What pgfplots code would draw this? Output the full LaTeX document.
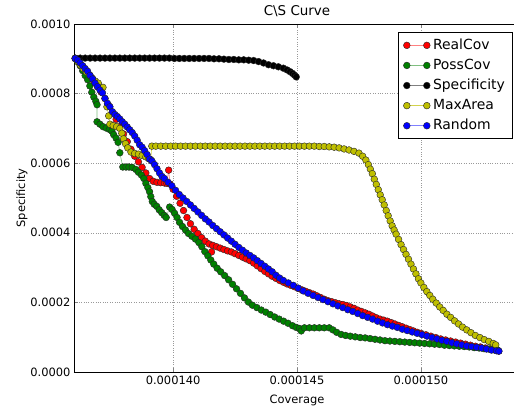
\documentclass[border=0pt]{standalone}
\usepackage{fontspec}
\setmainfont{DejaVu Sans}
\usepackage{pgfplots}
\pgfplotsset{compat=1.18}

\definecolor{mplgreen}{rgb}{0,0.5,0}
\definecolor{mplyellow}{rgb}{0.75,0.75,0}

% x in units of 1e-6, y in units of 1e-4
\pgfplotsset{
  cs/.style={line width=0.6pt, mark=*, mark size=3.4pt,
    mark options={solid, fill=#1, draw=black!85, line width=0.4pt}},
}

\begin{document}
\begin{tikzpicture}
\path[use as bounding box] (-74bp,-36bp) rectangle (440bp,372bp);
\begin{axis}[
    at={(0,0)}, anchor=south west,
    scale only axis,
    width=446bp, height=348bp,
    xmin=136, xmax=154, ymin=0, ymax=10,
    xtick={140,145,150},
    xticklabels={0.000140,0.000145,0.000150},
    ytick={0,2,4,6,8,10},
    yticklabels={0.0000,0.0002,0.0004,0.0006,0.0008,0.0010},
    tick align=inside,
    major tick length=4bp,
    grid=major,
    grid style={dotted, gray!80, line width=0.5pt},
    axis line style={line width=0.6pt},
    tick label style={font=\fontsize{11.5}{13}\selectfont},
    label style={font=\fontsize{11.5}{13}\selectfont},
    title style={font=\fontsize{13.5}{15}\selectfont, yshift=-2bp},
    title={C\textbackslash S Curve},
    xlabel={Coverage},
    ylabel={Specificity},
    xlabel style={yshift=-4bp},
    ylabel style={yshift=-4bp},
    legend style={at={(1,1)}, anchor=north east, xshift=-7bp, yshift=-8bp,
      font=\fontsize{14}{16}\selectfont, draw=black, line width=0.6pt,
      inner xsep=5bp, inner ysep=3bp, row sep=0pt,
      nodes={text height=11bp, text depth=3.5bp, inner sep=2.8bp}},
    legend cell align=left,
    legend image code/.code={\draw[#1] plot coordinates {(0bp,0bp) (20bp,0bp)};},
]

% RealCov
\addplot[color=red!50, cs=red] table {
136.05 9.01
136.20 8.90
136.35 8.78
136.50 8.66
136.65 8.52
136.80 8.36
136.95 8.20
137.10 8.04
137.25 7.86
137.40 7.66
137.55 7.46
137.70 7.26
137.85 7.05
138.00 6.84
138.15 6.62
138.30 6.40
138.45 6.20
138.60 6.04
138.75 5.88
138.90 5.72
139.05 5.56
139.20 5.48
139.35 5.45
139.50 5.44
139.65 5.43
139.75 5.42
139.82 5.80
139.88 5.40
140.00 5.25
140.14 5.05
140.28 4.85
140.42 4.64
140.56 4.44
140.70 4.26
140.85 4.10
141.00 3.98
141.15 3.86
141.30 3.76
141.45 3.68
141.55 3.45
141.60 3.64
141.75 3.60
141.90 3.56
142.05 3.52
142.20 3.48
142.35 3.45
142.50 3.40
142.65 3.35
142.80 3.30
142.95 3.25
143.10 3.20
143.25 3.13
143.40 3.05
143.55 2.97
143.70 2.89
143.85 2.82
144.00 2.75
144.15 2.69
144.30 2.63
144.45 2.58
144.60 2.53
144.75 2.49
144.90 2.45
145.05 2.40
145.20 2.36
145.35 2.32
145.50 2.28
145.65 2.24
145.80 2.19
145.95 2.14
146.10 2.09
146.25 2.05
146.40 2.02
146.55 1.99
146.70 1.96
146.85 1.94
147.00 1.91
147.15 1.87
147.30 1.83
147.45 1.78
147.60 1.74
147.75 1.70
147.90 1.66
148.05 1.61
148.20 1.56
148.35 1.52
148.50 1.49
148.65 1.46
148.80 1.42
148.95 1.38
149.10 1.34
149.25 1.30
149.40 1.26
149.55 1.22
149.70 1.18
149.85 1.14
150.00 1.11
150.20 1.07
150.40 1.03
150.60 0.99
150.80 0.95
151.00 0.92
151.20 0.89
151.40 0.86
151.60 0.83
151.80 0.80
152.00 0.77
152.20 0.74
152.40 0.72
152.60 0.69
152.80 0.66
153.00 0.63
153.14 0.60
};
\addlegendentry{RealCov}

% PossCov
\addplot[color=mplgreen!50, cs=mplgreen] table {
136.05 9.01
136.15 8.92
136.25 8.80
136.35 8.66
136.45 8.52
136.55 8.40
136.64 8.22
136.72 8.04
136.80 7.90
136.88 7.78
136.93 7.68
136.93 7.19
137.05 7.12
137.17 7.05
137.30 7.01
137.43 6.97
137.53 6.92
137.60 6.82
137.70 6.72
137.78 6.60
137.85 6.30
137.97 5.89
138.10 5.89
138.22 5.89
138.35 5.88
138.50 5.82
138.60 5.74
138.72 5.66
138.82 5.56
138.90 5.42
138.98 5.30
139.05 5.18
139.10 5.04
139.16 4.90
139.24 4.82
139.34 4.76
139.44 4.66
139.54 4.58
139.64 4.50
139.72 4.44
139.86 4.74
139.96 4.67
140.06 4.56
140.16 4.44
140.26 4.30
140.38 4.18
140.50 4.08
140.62 3.98
140.76 3.90
140.90 3.82
141.04 3.72
141.16 3.60
141.28 3.46
141.40 3.34
141.52 3.22
141.64 3.10
141.78 2.98
141.92 2.88
142.08 2.77
142.24 2.65
142.40 2.52
142.56 2.39
142.72 2.26
142.88 2.13
143.04 2.01
143.20 1.92
143.38 1.85
143.56 1.78
143.74 1.72
143.92 1.65
144.10 1.58
144.28 1.52
144.46 1.46
144.64 1.40
144.82 1.33
144.97 1.28
145.10 1.25
145.17 1.18
145.30 1.27
145.50 1.27
145.70 1.27
145.90 1.27
146.10 1.27
146.30 1.27
146.45 1.21
146.60 1.14
146.78 1.08
146.96 1.05
147.15 1.03
147.35 1.01
147.55 0.99
147.75 0.98
147.95 0.96
148.15 0.94
148.35 0.92
148.55 0.90
148.75 0.89
148.95 0.88
149.15 0.87
149.35 0.86
149.55 0.85
149.75 0.84
149.95 0.83
150.15 0.82
150.35 0.81
150.55 0.80
150.75 0.79
150.95 0.77
151.15 0.76
151.35 0.75
151.55 0.74
151.75 0.73
151.95 0.72
152.15 0.70
152.35 0.69
152.55 0.67
152.75 0.66
152.95 0.64
153.10 0.63
};
\addlegendentry{PossCov}

% Specificity
\addplot[color=black!50, cs=black] table {
136.05 9.02
136.25 9.02
136.45 9.02
136.65 9.02
136.85 9.02
137.05 9.02
137.25 9.02
137.45 9.02
137.65 9.02
137.85 9.02
138.05 9.02
138.25 9.02
138.45 9.02
138.65 9.02
138.85 9.02
139.05 9.02
139.25 9.02
139.45 9.02
139.65 9.02
139.85 9.02
140.05 9.01
140.25 9.01
140.45 9.01
140.65 9.01
140.85 9.01
141.05 9.01
141.25 9.01
141.45 9.01
141.65 9.00
141.85 9.00
142.05 8.99
142.25 8.98
142.45 8.98
142.65 8.97
142.85 8.97
143.05 8.96
143.25 8.95
143.45 8.92
143.65 8.88
143.85 8.83
144.05 8.80
144.25 8.77
144.45 8.73
144.60 8.68
144.72 8.63
144.82 8.58
144.90 8.53
144.97 8.48
};
\addlegendentry{Specificity}

% MaxArea
\addplot[color=mplyellow!70, cs=mplyellow] table {
136.05 9.01
136.15 8.92
136.25 8.82
136.37 8.72
136.50 8.62
136.62 8.54
136.74 8.44
136.86 8.36
136.98 8.30
137.17 8.18
137.33 7.62
137.40 7.36
137.45 7.12
137.58 7.08
137.72 7.05
137.85 7.00
137.93 6.86
138.00 6.70
138.08 6.56
138.17 6.44
138.30 6.32
138.45 6.28
138.60 6.26
138.75 6.22
138.90 6.18
139.02 6.13
139.10 6.10
139.14 6.49
139.30 6.49
139.50 6.49
139.70 6.49
139.90 6.49
140.10 6.49
140.30 6.49
140.50 6.49
140.70 6.49
140.90 6.49
141.10 6.49
141.30 6.49
141.50 6.49
141.70 6.49
141.90 6.49
142.10 6.49
142.30 6.49
142.50 6.49
142.70 6.49
142.90 6.49
143.10 6.49
143.30 6.49
143.50 6.49
143.70 6.49
143.90 6.49
144.10 6.49
144.30 6.49
144.50 6.49
144.70 6.49
144.90 6.49
145.10 6.49
145.30 6.49
145.50 6.49
145.70 6.49
145.90 6.48
146.10 6.48
146.30 6.47
146.50 6.46
146.70 6.44
146.90 6.41
147.10 6.38
147.30 6.34
147.50 6.29
147.65 6.20
147.78 6.09
147.88 5.96
147.96 5.83
148.04 5.70
148.12 5.54
148.20 5.39
148.28 5.24
148.36 5.09
148.44 4.95
148.52 4.80
148.60 4.64
148.68 4.49
148.76 4.34
148.84 4.20
148.92 4.08
149.00 3.96
149.10 3.81
149.20 3.66
149.30 3.52
149.40 3.38
149.50 3.24
149.60 3.10
149.70 2.96
149.80 2.82
149.90 2.68
150.00 2.56
150.12 2.43
150.24 2.31
150.36 2.20
150.48 2.09
150.62 1.98
150.76 1.87
150.90 1.77
151.05 1.66
151.20 1.57
151.36 1.47
151.52 1.38
151.68 1.29
151.85 1.21
152.02 1.13
152.20 1.05
152.38 0.99
152.56 0.93
152.74 0.88
152.92 0.82
153.02 0.78
};
\addlegendentry{MaxArea}

% Random
\addplot[color=blue!50, cs=blue] table {
136.05 9.01
136.15 8.96
136.25 8.88
136.35 8.80
136.45 8.72
136.55 8.64
136.65 8.52
136.75 8.42
136.85 8.30
136.95 8.20
137.05 8.10
137.15 8.02
137.25 7.86
137.35 7.72
137.45 7.62
137.55 7.48
137.65 7.40
137.75 7.34
137.85 7.27
137.95 7.19
138.05 7.12
138.15 7.04
138.25 6.96
138.35 6.88
138.45 6.78
138.55 6.66
138.65 6.53
138.75 6.46
138.85 6.36
138.95 6.25
139.05 6.12
139.15 6.06
139.25 5.96
139.35 5.84
139.45 5.72
139.55 5.62
139.65 5.56
139.80 5.45
139.95 5.35
140.10 5.22
140.25 5.10
140.40 5.00
140.55 4.90
140.70 4.80
140.85 4.70
141.00 4.60
141.15 4.50
141.30 4.40
141.45 4.31
141.60 4.21
141.75 4.12
141.90 4.03
142.05 3.94
142.20 3.85
142.35 3.76
142.50 3.67
142.65 3.58
142.80 3.50
142.95 3.42
143.10 3.35
143.25 3.28
143.40 3.20
143.55 3.12
143.70 3.04
143.85 2.96
144.00 2.88
144.15 2.78
144.30 2.70
144.45 2.63
144.65 2.56
144.85 2.49
145.05 2.41
145.25 2.33
145.45 2.26
145.65 2.20
145.85 2.14
146.05 2.08
146.25 2.02
146.45 1.96
146.65 1.90
146.85 1.85
147.05 1.79
147.25 1.74
147.45 1.68
147.65 1.62
147.85 1.57
148.05 1.52
148.25 1.46
148.45 1.41
148.65 1.36
148.85 1.32
149.05 1.28
149.25 1.23
149.45 1.19
149.65 1.15
149.85 1.11
150.05 1.07
150.25 1.03
150.45 0.99
150.65 0.95
150.85 0.91
151.05 0.88
151.25 0.84
151.45 0.81
151.65 0.78
151.85 0.75
152.05 0.73
152.25 0.71
152.45 0.69
152.65 0.66
152.85 0.63
153.05 0.61
153.15 0.60
};
\addlegendentry{Random}

\end{axis}
\end{tikzpicture}
\end{document}
